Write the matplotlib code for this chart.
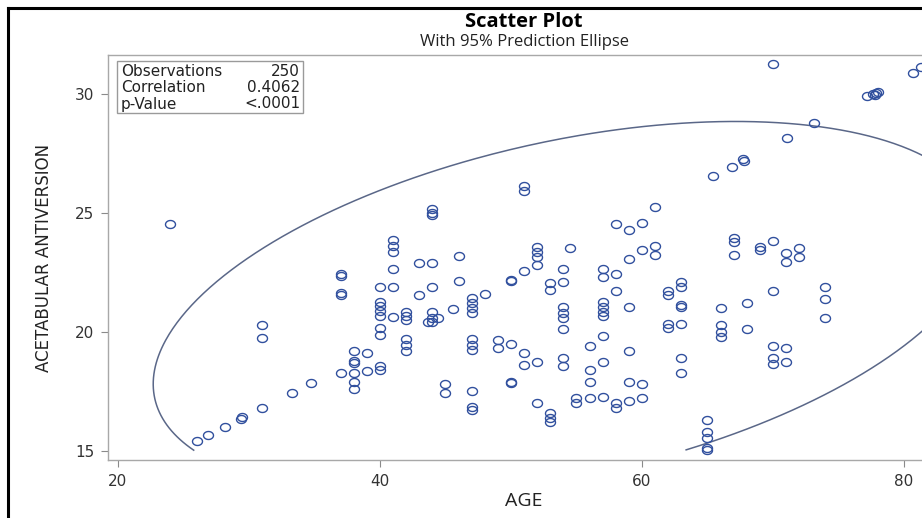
import numpy as np
import matplotlib
matplotlib.use("Agg")
from matplotlib import pyplot as plt
from matplotlib.lines import Line2D
from matplotlib.patches import Rectangle
from matplotlib.path import Path

# values
age = [24, 31, 31, 34.7, 33.3, 31, 29.4, 29.5, 28.2, 26.9, 26,
       44, 44, 44, 41, 41, 41, 46, 43, 44, 41, 46, 37, 37, 37, 37,
       40, 41, 44, 43, 48, 40, 40, 40, 40, 41, 42, 42, 42,
       44, 44, 44, 43.7, 44.4, 45.6, 47, 47, 47, 47, 40, 40,
       42, 42, 42, 47, 47, 47, 49, 49, 38, 39, 38, 38,
       37, 38, 39, 40, 40, 38, 38, 45, 45, 47, 47, 47,
       51, 51, 61, 58, 59, 60, 52, 52, 52, 52, 54.5, 60, 61, 61, 59,
       50, 50, 51, 54, 54, 53, 53, 57, 57, 58, 58, 62, 62, 63, 63,
       54, 54, 54, 54, 57, 57, 57, 57, 59, 63, 63, 62, 62, 63,
       57, 50, 51, 56, 59, 51, 52, 54, 54, 57, 56, 63, 63,
       50, 50, 56, 59, 60, 52, 55, 55, 56, 57, 58, 58, 59, 60,
       53, 53, 53,
       70, 80.7, 81.3, 77.2, 77.6, 77.9, 78, 77.8, 73.1, 71.1,
       65.4, 66.9, 67.7, 67.8, 67, 67, 67, 69, 69, 70, 71, 71, 72, 72,
       66, 68, 70, 74, 74, 74, 66, 66, 66, 68, 70, 71, 70, 70, 71,
       65, 65, 65, 65, 65]
antiversion = [24.55, 20.3, 19.75, 17.85, 17.43, 16.8, 16.35, 16.42, 16.0, 15.67, 15.42,
               25.15, 25.0, 24.9, 23.85, 23.6, 23.35, 23.2, 22.9, 22.9, 22.65, 22.14,
               22.45, 22.35, 21.65, 21.55,
               21.9, 21.9, 21.9, 21.55, 21.6, 21.26, 21.1, 20.9, 20.67, 20.63, 20.84, 20.67, 20.5,
               20.85, 20.6, 20.4, 20.4, 20.6, 20.97, 21.43, 21.22, 21.0, 20.8, 20.17, 19.87,
               19.7, 19.45, 19.2, 19.7, 19.45, 19.24, 19.66, 19.33, 19.2, 19.1, 18.8, 18.7,
               18.28, 18.28, 18.36, 18.57, 18.4, 17.9, 17.6, 17.8, 17.43, 17.52, 16.85, 16.72,
               26.13, 25.92, 25.25, 24.54, 24.29, 24.58, 23.57, 23.36, 23.15, 22.8, 23.53,
               23.45, 23.6, 23.24, 23.07,
               22.2, 22.15, 22.56, 22.63, 22.1, 22.06, 21.76, 22.63, 22.3, 22.44, 21.72,
               21.72, 21.55, 22.1, 21.9,
               21.05, 20.8, 20.6, 20.13, 21.26, 21.05, 20.84, 20.67, 21.05, 21.13, 21.05,
               20.34, 20.17, 20.34,
               19.83, 19.5, 19.12, 19.4, 19.2, 18.6, 18.74, 18.9, 18.57, 18.74, 18.4, 18.9, 18.28,
               17.9, 17.85, 17.9, 17.9, 17.8, 17.0, 17.23, 17.0, 17.23, 17.27, 17.0, 16.8, 17.1, 17.23,
               16.6, 16.39, 16.2,
               31.26, 30.88, 31.13, 29.9, 30.0, 30.05, 30.1, 29.95, 28.78, 28.15,
               26.55, 26.93, 27.27, 27.2, 23.95, 23.78, 23.24, 23.57, 23.45, 23.82, 23.32, 22.94,
               23.53, 23.15,
               21.0, 21.22, 21.72, 21.9, 21.39, 20.59, 20.3, 20.0, 19.79, 20.13, 19.41, 19.33,
               18.9, 18.65, 18.74,
               16.3, 15.8, 15.55, 15.13, 15.05]

stat_labels = ['Observations', 'Correlation', 'p-Value']
stat_values = ['250', '0.4062', '<.0001']

# ellipse summary statistics
n_obs = 250
mean_age, mean_anti = 54.3, 21.0
sd_age, sd_anti = 12.81, 3.18
corr = 0.4062
f_crit = 3.032  # F(0.95; 2, n-2)

mark_col = '#31509e'
line_col = '#5a6788'

fig = plt.figure(figsize=(9.22, 5.18), dpi=100)
W, H = 922.0, 518.0

# axes: plot area from px 108 to 940 horizontally, 55 to 460 vertically
ax = fig.add_axes([108 / W, 1 - 460 / H, (940 - 108) / W, (460 - 55) / H])
ax.set_xlim(19.24, 82.75)
ax.set_ylim(14.62, 31.64)

# slightly flattened open circle, like the source image
tt = np.linspace(0, 2 * np.pi, 40)
oval = Path(np.column_stack([np.cos(tt), 0.8 * np.sin(tt)]), closed=True)
ax.plot(age, antiversion, ls='none', marker=oval, ms=7.2, mfc='none',
        mec=mark_col, mew=1.0, zorder=3)

# 95% prediction ellipse
cov = np.array([[sd_age ** 2, corr * sd_age * sd_anti],
                [corr * sd_age * sd_anti, sd_anti ** 2]])
c = np.sqrt(2 * (n_obs - 1) / (n_obs - 2) * f_crit)
L = np.linalg.cholesky(cov)
t = np.linspace(0, 2 * np.pi, 600)
pts = c * L @ np.vstack([np.cos(t), np.sin(t)])
ex = pts[0] + mean_age
ey = pts[1] + mean_anti
ey = np.where(ey < 15.0, np.nan, ey)
ax.plot(ex, ey, color=line_col, lw=1.1, zorder=2)

for s in ['top', 'left', 'bottom', 'right']:
    ax.spines[s].set_color('#a8a8a8')
    ax.spines[s].set_linewidth(1.0)
ax.set_xticks([20, 40, 60, 80])
ax.set_yticks([15, 20, 25, 30])
ax.tick_params(length=5, color='#8a8a8a', labelsize=11, labelcolor='#333333', pad=5)
ax.set_xlabel('AGE', fontsize=14, family=['Open Sans', 'DejaVu Sans'],
              color='#222222', labelpad=2)
ax.set_ylabel('ACETABULAR ANTIVERSION', fontsize=12,
              family=['Liberation Sans Narrow', 'DejaVu Sans'],
              color='#222222', labelpad=16)

# titles
fig.text(524 / W, 1 - 22 / H, 'Scatter Plot', ha='center', va='center',
         fontsize=14.5, fontweight='bold', family=['Open Sans', 'DejaVu Sans'])
fig.text(524 / W, 1 - 42 / H, 'With 95% Prediction Ellipse', ha='center', va='center',
         fontsize=12, family=['Open Sans', 'DejaVu Sans'], color='#222222')

# statistics box
fig.add_artist(Rectangle((117 / W, 1 - 113 / H), (303 - 117) / W, (113 - 61) / H,
                         transform=fig.transFigure, fill=True, fc='white',
                         ec='#9a9a9a', lw=1.0, zorder=5))
for i, (lab, val) in enumerate(zip(stat_labels, stat_values)):
    yy = 1 - (71 + 16.5 * i) / H
    fig.text(121 / W, yy, lab, ha='left', va='center', fontsize=11,
             color='#222222', zorder=6)
    fig.text(300 / W, yy, val, ha='right', va='center', fontsize=11,
             color='#222222', zorder=6)

# outer frame of the screenshot
fig.add_artist(Line2D([8 / W, 8 / W], [0, 1 - 8 / H], color='black', lw=2.2,
                      transform=fig.transFigure))
fig.add_artist(Line2D([8 / W, 1], [1 - 8 / H, 1 - 8 / H], color='black', lw=2.2,
                      transform=fig.transFigure))

fig.savefig('out.png', dpi=100)
